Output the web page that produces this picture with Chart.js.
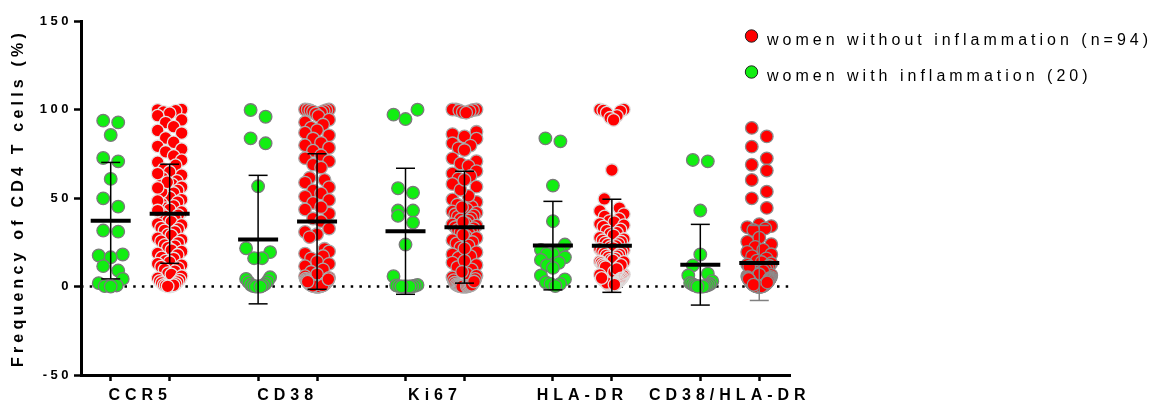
<!DOCTYPE html>
<html>
<head>
<meta charset="utf-8">
<script src="https://cdn.jsdelivr.net/npm/chart.js@4.4.1/dist/chart.umd.min.js"></script>
<style>
html,body{margin:0;padding:0;background:#fff;}
canvas{display:block;}
</style>
</head>
<body>
<canvas id="c" width="1154" height="406"></canvas>
<script>
// ---------------- DATA ----------------
const categories = ['CCR5', 'CD38', 'Ki67', 'HLA-DR', 'CD38/HLA-DR'];
const seriesNames = ['women without inflammation (n=94)', 'women with inflammation (20)'];
const yTickValues = [-50, 0, 50, 100, 150];
const yTitle = 'Frequency of CD4 T cells (%)';

// women with inflammation (green, n=20)
const withCCR5 = [93.7, 92.7, 85.6, 72.6, 70.7, 60.8, 49.8, 45.1, 31.6, 31.0, 18.1, 17.5, 16.5, 11.5, 9.0, 4.3, 1.9, 0.6, 0.2, 0.0];
const withCD38 = [99.7, 95.9, 83.7, 80.9, 56.6, 21.6, 19.4, 16.0, 16.0, 5.2, 4.3, 3.0, 2.5, 1.5, 1.0, 0.6, 0.3, 0.0, 0.0, 0.0];
const withKi67 = [99.9, 97.1, 94.6, 55.5, 53.0, 42.9, 42.9, 39.9, 36.1, 23.7, 5.8, 0.9, 0.6, 0.4, 0.2, 0.1, 0.0, 0.0, 0.0, 0.0];
const withHLADR = [83.7, 82.0, 57.0, 36.9, 23.7, 20.7, 20.0, 18.4, 18.4, 16.5, 15.0, 13.4, 12.0, 10.5, 6.2, 4.0, 2.4, 1.5, 1.5, 0.3];
const withCD38HLADR = [71.5, 70.7, 42.9, 18.1, 11.9, 7.2, 6.2, 3.0, 2.0, 1.5, 1.5, 1.0, 0.8, 0.5, 0.5, 0.2, 0.0, 0.0, 0.0, 0.0];

// women without inflammation (red, n=94)
const withoutCCR5 = [100, 99.8, 99.3, 98.6, 97.9, 96.5, 94.1, 92.6, 90.3, 88.2, 86.7, 83.9, 81.5, 79.2, 77.6, 76.1,
  73.8, 71.4, 70.2, 68.5, 66.3, 64.7, 62.9, 61.3, 59.6, 57.8, 56.2, 54.3, 52.8, 51.6, 50.4, 49.1, 47.7, 46.8, 45.5,
  44.2, 43.6, 42.1, 41.4, 40.3, 39.7, 38.5, 37.2, 36.6, 35.4, 34.8, 33.2, 32.5, 31.7, 30.9, 29.4, 28.8, 27.3, 26.5, 25.6,
  24.7, 23.5, 22.8, 21.9, 20.6, 19.8, 18.7, 17.9, 16.4, 15.8, 14.6, 13.8, 12.9, 12.1, 11.2, 10.4, 9.6, 8.7, 7.5, 6.8, 5.9,
  4.7, 3.9, 3.1, 2.6, 2.0, 1.4, 0.9, 0.5, 0.2, 0.0, 53.5, 58.9, 63.8, 48.3, 42.9, 55.7, 0.7, 0.1];
const withoutCD38 = [100, 100, 99.9, 99.6, 99.4, 99.1, 98.8, 98.3, 97.6, 96.4, 94.2, 92.8, 91.5, 89.7, 88.3, 86.9, 85.4,
  83.6, 81.2, 79.8, 78.4, 76.7, 74.1, 72.5, 70.8, 68.9, 67.2, 61.4, 60.2, 58.7, 56.1, 54.3, 52.6, 50.8, 48.9, 47.2,
  43.5, 41.2, 44.8, 38.4, 36.9, 32.7, 30.8, 29.5, 27.9, 21.3, 19.8, 18.6, 17.2, 15.9, 14.1, 12.8, 11.5, 9.7, 8.3, 6.9, 5.8,
  4.9, 4.4, 3.7, 3.2, 2.9, 2.5, 2.1, 1.8, 1.5, 1.2, 0.9, 0.7, 0.5, 0.4, 0.2, 0.1, 0, 0, 0, 0, 0,
  0.3, 0.6, 1.0, 1.6, 2.3, 3.5, 0.8, 0.2, 0.1, 0, 0, 1.3, 0.4, 0.6, 2.7, 4.1];
const withoutKi67 = [100, 100, 100, 99.7, 99.4, 99.0, 98.6, 98.2, 87.4, 86.1, 84.8, 83.5, 80.9, 79.6, 78.2, 77.1,
  72.4, 70.8, 69.5, 68.1, 65.2, 63.9, 62.4, 61.1, 57.9, 56.4, 49.2, 47.8, 46.3, 45.1, 43.6, 42.4, 41.7, 40.8, 40.1,
  39.5, 38.6, 37.9, 37.2, 35.8, 35.1, 34.4, 33.6, 32.9, 32.1, 31.5, 30.7, 30.1, 28.6, 27.4, 26.2, 25.1, 24.3, 23.2, 22.1,
  19.4, 18.2, 17.1, 16.3, 13.5, 12.2, 10.9, 9.6, 7.4, 6.1, 5.2, 4.3, 3.6, 2.1, 1.6, 1.2, 0.8, 0.5, 0.3, 0.1, 0, 0, 0, 0, 0,
  0.2, 0.4, 0.7, 1.0, 44.8, 36.4, 29.3, 21.5, 14.6, 8.3, 2.8, 51.2, 54.6, 60.3];
const withoutHLADR = [100, 100, 99.5, 99.1, 98.2, 96.4, 95.3, 94.1, 65.8, 49.5,
  44.3, 42.7, 40.9, 39.6, 38.2, 37.1, 36.4, 35.3, 34.6, 33.8, 32.2, 31.5, 30.4, 29.7, 28.9, 27.6, 26.8, 26.1, 25.4,
  24.8, 24.1, 23.6, 22.9, 22.3, 21.7, 21.2, 20.5, 19.9, 19.3, 18.7, 18.2, 17.6, 17.1, 16.5, 15.8, 15.2,
  14.7, 14.1, 13.4, 12.9, 12.5, 11.8, 11.3, 10.7, 10.2, 9.6, 9.1, 8.5, 7.9, 7.4, 6.8, 6.2, 5.7, 5.1, 13.9, 11.0, 8.2, 6.6, 12.2, 9.9,
  4.6, 4.1, 3.5, 3.0, 2.6, 2.2, 1.8, 1.4, 1.0, 0.7, 0.4, 3.8, 2.4, 1.2, 4.4, 0.2, 2.9, 1.6, 0.5, 3.3, 0.8, 2.0, 4.8, 1.1];
const withoutCD38HLADR = [89.6, 84.8, 79.0, 72.4, 68.8, 65.5, 60.2, 53.6, 49.8, 44.4, 35.2, 34.1, 33.5, 32.8, 31.9,
  27.6, 25.3, 23.9, 22.4, 20.8, 19.5, 18.2, 17.1, 15.9, 14.6, 13.8, 13.1,
  12.4, 11.7, 10.9, 10.3, 9.6, 9.0, 8.4, 7.7, 7.1, 6.5, 6.0, 5.4, 11.2, 8.8, 6.9, 5.2,
  4.9, 4.5, 4.1, 3.8, 3.4, 3.1, 2.8, 2.5, 2.2, 1.9, 1.7, 1.5, 1.3, 1.1, 0.9, 0.8, 0.6, 0.5, 0.4, 0.3, 0.2, 0.1,
  0, 0, 0, 0, 0, 0, 0, 0, 4.7, 3.6, 2.6, 1.8, 1.2, 0.7, 0.3, 0.1, 0, 0, 3.9, 2.9, 2.0, 1.4, 0.9, 0.4, 0.2, 0, 4.3, 2.3, 1.0];

// mean and SD as shown by the bars
const withMean = [37.2, 26.5, 31.2, 23.1, 12.3];
const withSD = [32.9, 36.3, 35.6, 25.0, 22.8];
const withoutMean = [41.1, 36.7, 33.5, 23.0, 13.3];
const withoutSD = [28.0, 38.3, 31.6, 26.3, 21.2];

// ---------------- STYLE ----------------
const withGroups = [withCCR5, withCD38, withKi67, withHLADR, withCD38HLADR];
const withoutGroups = [withoutCCR5, withoutCD38, withoutKi67, withoutHLADR, withoutCD38HLADR];
const GREEN = '#11ee11', RED = '#ff0000';
const redBorders = ['#e4e4e4', '#a9a9a9', '#a9a9a9', '#dedede', '#8c8c8c'];
const redBarColors = ['#000', '#000', '#000', '#000', '#808080'];
const OFF_WITH = 0, OFF_WITHOUT = 0.4;
const X_MIN = -0.2015, X_MAX = 4.6085;
const FONT = '"Liberation Sans", Arial, Helvetica, sans-serif';

const xTickVals = [];
categories.forEach((c, i) => { xTickVals.push(i + OFF_WITH, i + (OFF_WITH + OFF_WITHOUT) / 2, i + OFF_WITHOUT); });

const datasets = [];
// dotted zero line
datasets.push({ label: 'zero', data: [{x: X_MIN, y: 0}, {x: X_MAX, y: 0}], showLine: true, borderColor: '#000',
  borderWidth: 2.5, borderDash: [2.5, 6.2], pointRadius: 0, order: 10 });
const pointSets = [];
categories.forEach((c, i) => {
  const g = { label: seriesNames[1] + ' ' + c, data: withGroups[i].map(v => ({x: i + OFF_WITH, y: v})),
    backgroundColor: GREEN, borderColor: '#7a7a7a', borderWidth: 1.3, pointRadius: 6.3, pointHoverRadius: 6.3, order: 5,
    _vals: withGroups[i], _center: i + OFF_WITH, _maxHalf: 12 };
  const r = { label: seriesNames[0] + ' ' + c, data: withoutGroups[i].map(v => ({x: i + OFF_WITHOUT, y: v})),
    backgroundColor: RED, borderColor: redBorders[i], borderWidth: 1.3, pointRadius: 6.3, pointHoverRadius: 6.3, order: 5,
    _vals: withoutGroups[i], _center: i + OFF_WITHOUT, _maxHalf: 12 };
  datasets.push(g, r); pointSets.push(g, r);
});

const legendPlugin = {
  id: 'customLegend',
  afterDraw(c) {
    const ctx = c.ctx;
    ctx.save();
    ctx.letterSpacing = '4px';
    ctx.font = '16px ' + FONT;
    ctx.textAlign = 'left'; ctx.textBaseline = 'alphabetic';
    const items = [{t: seriesNames[0], col: RED}, {t: seriesNames[1], col: GREEN}];
    items.forEach((it, k) => {
      const cy = 36 + k * 36;
      ctx.beginPath(); ctx.arc(751.5, cy, 6.2, 0, Math.PI * 2);
      ctx.fillStyle = it.col; ctx.fill();
      ctx.lineWidth = 1; ctx.strokeStyle = '#222'; ctx.stroke();
      ctx.fillStyle = '#000';
      ctx.fillText(it.t, 767, cy + 9.3);
    });
    ctx.restore();
  }
};

const chart = new Chart(document.getElementById('c'), {
  type: 'scatter',
  data: { datasets },
  options: {
    responsive: false, animation: false, devicePixelRatio: 1,
    layout: { padding: { top: 21, right: 364, left: 0, bottom: 0 } },
    plugins: { legend: { display: false }, tooltip: { enabled: false } },
    scales: {
      x: {
        type: 'linear', min: X_MIN, max: X_MAX,
        afterBuildTicks: s => { s.ticks = xTickVals.map(v => ({ value: v })); },
        afterFit: s => { s.height = 31; },
        ticks: {
          autoSkip: false, maxRotation: 0, minRotation: 0, padding: 5, color: '#000',
          font: { family: FONT, size: 16, weight: 'bold' },
          callback: (v, i) => (i % 3 === 1 ? categories[(i - 1) / 3] : '')
        },
        grid: { drawOnChartArea: false, tickLength: 6, tickWidth: 2.5,
          tickColor: ctx => (ctx.index % 3 === 1 ? 'rgba(0,0,0,0)' : '#000') },
        border: { color: '#000', width: 3 }
      },
      y: {
        min: -50, max: 150,
        afterBuildTicks: s => { s.ticks = yTickValues.map(v => ({ value: v })); },
        afterFit: s => { s.width = 81; },
        ticks: { padding: 2, color: '#000', font: { family: FONT, size: 13, weight: 'bold' } },
        grid: { drawOnChartArea: false, tickLength: 7, tickWidth: 2.5, tickColor: '#000' },
        border: { color: '#000', width: 3 },
        title: { display: true, text: yTitle, color: '#000', font: { family: FONT, size: 16, weight: 'bold', lineHeight: 1.2 },
          padding: { top: 9, bottom: 0 } }
      }
    }
  },
  plugins: [legendPlugin]
});

// per-scale letter spacing of the text (scale instances persist across updates)
function patchSpacing(scale, labelSp, titleSp) {
  const dl = scale.drawLabels.bind(scale), dt = scale.drawTitle.bind(scale);
  scale.drawLabels = function (a) { this.ctx.letterSpacing = labelSp; dl(a); this.ctx.letterSpacing = '0px'; };
  scale.drawTitle = function (a) { this.ctx.letterSpacing = titleSp; dt(a); this.ctx.letterSpacing = '0px'; };
}
patchSpacing(chart.scales.x, '5px', '0px');
patchSpacing(chart.scales.y, '3.5px', '4.2px');

// ---------- layout of dots (row based scatter like GraphPad) ----------
const xs = chart.scales.x, ys = chart.scales.y;
const pxPerX = xs.getPixelForValue(1) - xs.getPixelForValue(0);
const pxPerY = ys.getPixelForValue(0) - ys.getPixelForValue(1);
function rowOffsets(vals, rowH, spacing, maxHalf) {
  const order = vals.map((v, i) => i).sort((a, b) => vals[a] - vals[b]);
  const offs = new Array(vals.length).fill(0);
  let row = [], start = null;
  const flush = () => {
    const n = row.length;
    const sp = n > 1 ? Math.min(spacing, 2 * maxHalf / (n - 1)) : 0;
    const arranged = [];
    row.forEach((idx, j) => { if (j % 2 === 0) arranged.push(idx); else arranged.unshift(idx); });
    arranged.forEach((idx, j) => { offs[idx] = (j - (n - 1) / 2) * sp; });
    row = [];
  };
  for (const i of order) {
    const y = vals[i] * pxPerY;
    if (start === null || y - start >= rowH) { if (row.length) flush(); start = y; }
    row.push(i);
  }
  if (row.length) flush();
  return offs;
}
pointSets.forEach(ds => {
  const offs = rowOffsets(ds._vals, 12, 15, ds._maxHalf);
  ds.data = ds._vals.map((v, k) => ({ x: ds._center + offs[k] / pxPerX, y: v }));
});

// ---------- mean and SD bars ----------
function addBars(center, mean, sd, color) {
  const capH = 9.5 / pxPerX, meanH = 20 / pxPerX;
  const base = { showLine: true, pointRadius: 0, borderColor: color, borderWidth: 1.5, order: 1 };
  datasets.push(Object.assign({}, base, { label: 'sd', data: [{x: center, y: mean - sd}, {x: center, y: mean + sd}] }));
  datasets.push(Object.assign({}, base, { label: 'cap', data: [{x: center - capH, y: mean + sd}, {x: center + capH, y: mean + sd}] }));
  datasets.push(Object.assign({}, base, { label: 'cap', data: [{x: center - capH, y: mean - sd}, {x: center + capH, y: mean - sd}] }));
  datasets.push(Object.assign({}, base, { label: 'mean', borderColor: '#000', borderWidth: 4, order: 0,
    data: [{x: center - meanH, y: mean}, {x: center + meanH, y: mean}] }));
}
categories.forEach((c, i) => {
  addBars(i + OFF_WITH, withMean[i], withSD[i], '#000');
  addBars(i + OFF_WITHOUT, withoutMean[i], withoutSD[i], redBarColors[i]);
});
chart.update('none');
</script>
</body>
</html>
